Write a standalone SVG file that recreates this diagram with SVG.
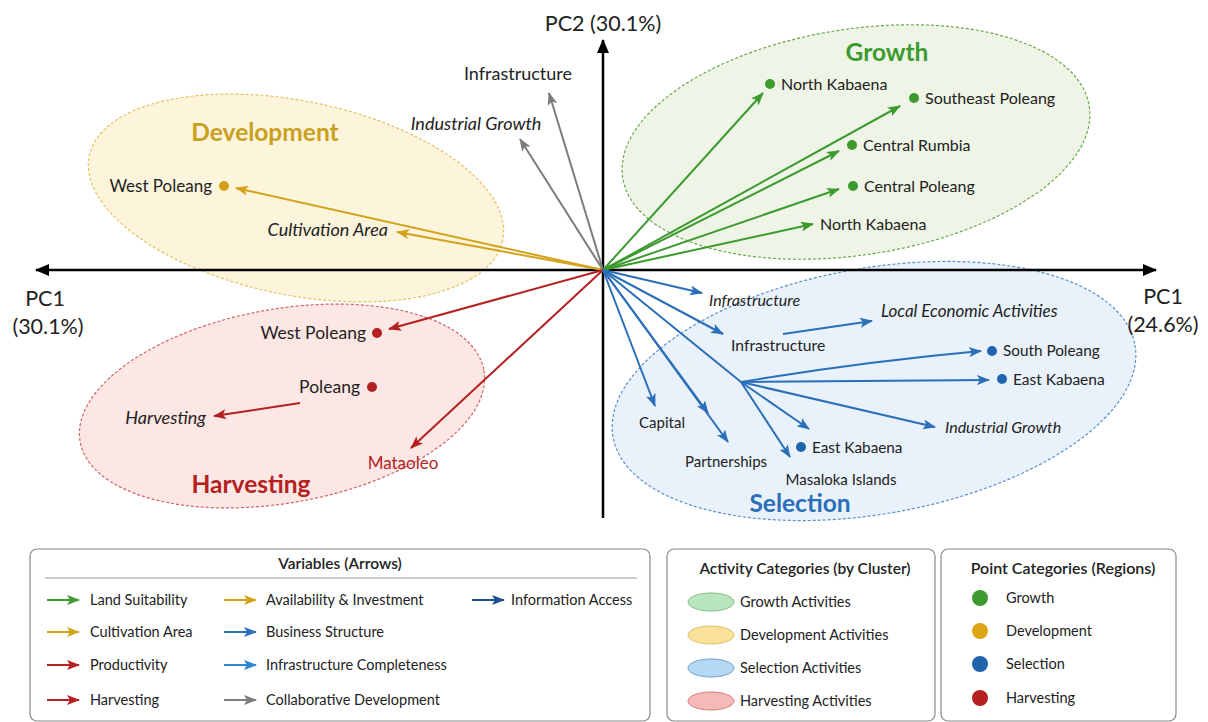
<svg xmlns="http://www.w3.org/2000/svg" width="1208" height="722" viewBox="0 0 1208 722">
<style>
text{font-family:Lato,"Open Sans","Liberation Sans",sans-serif;fill:#222}
.lbl{font-size:16px}
.it{font-size:16px;font-style:italic}
.ax{font-size:21.5px}
.ttl{font-size:24.5px;font-weight:bold}
.lg{font-size:14.5px}
.lgt{font-size:15.5px;font-weight:600}
.g{stroke:#3c9a2f;stroke-width:2;fill:none}
.y{stroke:#d4a21a;stroke-width:2;fill:none}
.r{stroke:#b52020;stroke-width:2;fill:none}
.b{stroke:#2a6fb8;stroke-width:2;fill:none}
.k{stroke:#7d7d7d;stroke-width:2;fill:none}
.box{fill:#fff;stroke:#888;stroke-width:1.2}
</style>
<defs>
<marker id="mg" markerUnits="userSpaceOnUse" markerWidth="13" markerHeight="10" refX="12" refY="5" orient="auto"><path d="M0,0 L13,5 L0,10 L3,5 z" fill="#3c9a2f"/></marker>
<marker id="my" markerUnits="userSpaceOnUse" markerWidth="13" markerHeight="10" refX="12" refY="5" orient="auto"><path d="M0,0 L13,5 L0,10 L3,5 z" fill="#d4a21a"/></marker>
<marker id="mr" markerUnits="userSpaceOnUse" markerWidth="13" markerHeight="10" refX="12" refY="5" orient="auto"><path d="M0,0 L13,5 L0,10 L3,5 z" fill="#b52020"/></marker>
<marker id="mb" markerUnits="userSpaceOnUse" markerWidth="13" markerHeight="10" refX="12" refY="5" orient="auto"><path d="M0,0 L13,5 L0,10 L3,5 z" fill="#2a6fb8"/></marker>
<marker id="mk" markerUnits="userSpaceOnUse" markerWidth="13" markerHeight="10" refX="12" refY="5" orient="auto"><path d="M0,0 L13,5 L0,10 L3,5 z" fill="#7d7d7d"/></marker>
<marker id="mlb" markerUnits="userSpaceOnUse" markerWidth="13" markerHeight="10" refX="12" refY="5" orient="auto"><path d="M0,0 L13,5 L0,10 L3,5 z" fill="#2f86d0"/></marker>
<marker id="mdb" markerUnits="userSpaceOnUse" markerWidth="13" markerHeight="10" refX="12" refY="5" orient="auto"><path d="M0,0 L13,5 L0,10 L3,5 z" fill="#1d4f91"/></marker>
<marker id="max" markerUnits="userSpaceOnUse" markerWidth="14" markerHeight="12" refX="13" refY="6" orient="auto-start-reverse"><path d="M0,0 L14,6 L0,12 z" fill="#000"/></marker>
</defs>
<rect width="1208" height="722" fill="#fff"/>

<!-- cluster ellipses -->
<g id="cluster-development"><ellipse cx="296" cy="198" rx="211" ry="97" transform="rotate(11.5 296 198)" fill="#fdf3d8" fill-opacity="0.9" stroke="#e2c263" stroke-width="1.2" stroke-dasharray="3 2"/><text x="265" y="141" class="ttl" text-anchor="middle" style="fill:#c9a020">Development</text></g>
<g id="cluster-growth"><ellipse cx="856" cy="142" rx="236" ry="113" transform="rotate(-8.7 856 142)" fill="#eef5e6" stroke="#6aa84f" stroke-width="1.2" stroke-dasharray="3 2"/><text x="887" y="61" class="ttl" text-anchor="middle" style="fill:#3c9a2f">Growth</text></g>
<g id="cluster-harvesting"><ellipse cx="282" cy="406" rx="205" ry="97" transform="rotate(-10 282 406)" fill="#fde7e4" stroke="#d06464" stroke-width="1.2" stroke-dasharray="3 2"/><text x="251" y="493" class="ttl" text-anchor="middle" style="fill:#b52020">Harvesting</text></g>
<g id="cluster-selection"><ellipse cx="874" cy="391" rx="265" ry="123" transform="rotate(-10 874 391)" fill="#e7f0fa" fill-opacity="0.9" stroke="#5b8fc9" stroke-width="1.2" stroke-dasharray="3 2"/><text x="800" y="512" class="ttl" text-anchor="middle" style="fill:#2a6fb8">Selection</text></g>

<!-- axes -->
<g id="axes">
<line x1="36" y1="270" x2="1156" y2="270" stroke="#000" stroke-width="2.5" marker-start="url(#max)" marker-end="url(#max)"/>
<line x1="603" y1="518" x2="603" y2="40" stroke="#000" stroke-width="2.5" marker-end="url(#max)"/>
<text x="603" y="31" class="ax" text-anchor="middle">PC2 (30.1%)</text>
<text x="45" y="306" class="ax" text-anchor="middle">PC1</text>
<text x="48" y="334" class="ax" text-anchor="middle">(30.1%)</text>
<text x="1163" y="304" class="ax" text-anchor="middle">PC1</text>
<text x="1163" y="332" class="ax" text-anchor="middle">(24.6%)</text>
</g>

<!-- connectors -->
<g id="connectors">
<line x1="603" y1="270" x2="236" y2="188" class="y" marker-end="url(#my)"/>
<line x1="603" y1="270" x2="397" y2="232" class="y" marker-end="url(#my)"/>
<line x1="603" y1="270" x2="549" y2="93" class="k" marker-end="url(#mk)"/>
<line x1="603" y1="270" x2="520" y2="139" class="k" marker-end="url(#mk)"/>
<line x1="603" y1="270" x2="763" y2="93" class="g" marker-end="url(#mg)"/>
<line x1="603" y1="270" x2="900" y2="106" class="g" marker-end="url(#mg)"/>
<line x1="603" y1="270" x2="839" y2="151" class="g" marker-end="url(#mg)"/>
<line x1="603" y1="270" x2="839" y2="189" class="g" marker-end="url(#mg)"/>
<line x1="603" y1="270" x2="813" y2="224" class="g" marker-end="url(#mg)"/>
<line x1="603" y1="270" x2="389" y2="329" class="r" marker-end="url(#mr)"/>
<line x1="603" y1="270" x2="411" y2="448" class="r" marker-end="url(#mr)"/>
<line x1="300" y1="403" x2="214" y2="416" class="r" marker-end="url(#mr)"/>
<line x1="603" y1="270" x2="702" y2="293" class="b" marker-end="url(#mb)"/>
<line x1="603" y1="270" x2="723" y2="334" class="b" marker-end="url(#mb)"/>
<line x1="783" y1="334" x2="872" y2="321" class="b" marker-end="url(#mb)"/>
<line x1="603" y1="270" x2="655" y2="406" class="b" marker-end="url(#mb)"/>
<line x1="603" y1="270" x2="708" y2="413" class="b" marker-end="url(#mb)"/>
<line x1="603" y1="270" x2="728" y2="442" class="b" marker-end="url(#mb)"/>
<line x1="603" y1="270" x2="741" y2="382" class="b"/>
<path d="M741,382 Q860,362 981,351" class="b" marker-end="url(#mb)"/>
<line x1="741" y1="382" x2="989" y2="380" class="b" marker-end="url(#mb)"/>
<line x1="741" y1="382" x2="935" y2="427" class="b" marker-end="url(#mb)"/>
<line x1="741" y1="382" x2="809" y2="429" class="b" marker-end="url(#mb)"/>
<line x1="741" y1="382" x2="790" y2="457" class="b" marker-end="url(#mb)"/>
</g>

<!-- nodes -->
<g id="node-dev-west-poleang"><circle cx="224" cy="186" r="5" fill="#d4a21a"/><text x="212" y="192" class="lbl" text-anchor="end" style="font-size:17px">West Poleang</text></g>
<g id="node-cultivation-area"><text x="388" y="236" class="it" text-anchor="end" style="font-size:18px">Cultivation Area</text></g>
<g id="node-infrastructure-top"><text x="518" y="80" class="lbl" text-anchor="middle" style="font-size:18px">Infrastructure</text></g>
<g id="node-industrial-growth-top"><text x="476" y="130" class="it" text-anchor="middle" style="font-size:18px">Industrial Growth</text></g>
<g id="node-north-kabaena-1"><circle cx="770" cy="84" r="5" fill="#3c9a2f"/><text x="781" y="90" class="lbl">North Kabaena</text></g>
<g id="node-southeast-poleang"><circle cx="914" cy="98" r="5" fill="#3c9a2f"/><text x="925" y="104" class="lbl">Southeast Poleang</text></g>
<g id="node-central-rumbia"><circle cx="852" cy="145" r="5" fill="#3c9a2f"/><text x="863" y="151" class="lbl">Central Rumbia</text></g>
<g id="node-central-poleang"><circle cx="853" cy="186" r="5" fill="#3c9a2f"/><text x="864" y="192" class="lbl">Central Poleang</text></g>
<g id="node-north-kabaena-2"><text x="820" y="230" class="lbl">North Kabaena</text></g>
<g id="node-harv-west-poleang"><circle cx="377" cy="333" r="5" fill="#b52020"/><text x="366" y="339" class="lbl" text-anchor="end" style="font-size:17.5px">West Poleang</text></g>
<g id="node-poleang"><circle cx="372" cy="387" r="5" fill="#b52020"/><text x="360" y="393" class="lbl" text-anchor="end" style="font-size:17.5px">Poleang</text></g>
<g id="node-harvesting-var"><text x="206" y="424" class="it" text-anchor="end" style="font-size:18px">Harvesting</text></g>
<g id="node-mataoleo"><text x="403" y="469" class="lbl" text-anchor="middle" style="font-size:17px;fill:#b52020">Mataoleo</text></g>
<g id="node-infrastructure-1"><text x="709" y="306" class="it">Infrastructure</text></g>
<g id="node-infrastructure-2"><text x="731" y="351" class="lbl" style="font-size:15.7px">Infrastructure</text></g>
<g id="node-local-economic"><text x="881" y="317" class="it" style="font-size:17px">Local Economic Activities</text></g>
<g id="node-south-poleang"><circle cx="992" cy="351" r="5" fill="#1f64ad"/><text x="1003" y="356" class="lbl" style="font-size:15.3px">South Poleang</text></g>
<g id="node-east-kabaena-1"><circle cx="1002" cy="379" r="5" fill="#1f64ad"/><text x="1013" y="385" class="lbl" style="font-size:15.5px">East Kabaena</text></g>
<g id="node-industrial-growth-sel"><text x="945" y="433" class="it">Industrial Growth</text></g>
<g id="node-east-kabaena-2"><circle cx="801" cy="447" r="5" fill="#1f64ad"/><text x="812" y="453" class="lbl" style="font-size:15.3px">East Kabaena</text></g>
<g id="node-masaloka"><text x="841" y="485" class="lbl" text-anchor="middle" style="font-size:15px">Masaloka Islands</text></g>
<g id="node-capital"><text x="662" y="428" class="lbl" text-anchor="middle" style="font-size:15px">Capital</text></g>
<g id="node-partnerships"><text x="726" y="467" class="lbl" text-anchor="middle" style="font-size:15px">Partnerships</text></g>

<!-- legend: variables -->
<g id="legend-variables">
<rect x="30" y="549" width="620" height="172" rx="7" class="box"/>
<text x="340" y="569" class="lgt" text-anchor="middle">Variables (Arrows)</text>
<line x1="45" y1="578" x2="637" y2="578" stroke="#999" stroke-width="1.2"/>
<line x1="47" y1="600" x2="79" y2="600" class="g" marker-end="url(#mg)"/><text x="90" y="605" class="lg">Land Suitability</text>
<line x1="47" y1="632" x2="79" y2="632" class="y" marker-end="url(#my)"/><text x="90" y="637" class="lg">Cultivation Area</text>
<line x1="47" y1="665" x2="79" y2="665" class="r" marker-end="url(#mr)"/><text x="90" y="670" class="lg">Productivity</text>
<line x1="47" y1="700" x2="79" y2="700" class="r" marker-end="url(#mr)"/><text x="90" y="705" class="lg">Harvesting</text>
<line x1="224" y1="600" x2="256" y2="600" class="y" marker-end="url(#my)"/><text x="266" y="605" class="lg">Availability &amp; Investment</text>
<line x1="224" y1="632" x2="256" y2="632" class="b" marker-end="url(#mb)"/><text x="266" y="637" class="lg">Business Structure</text>
<line x1="224" y1="665" x2="256" y2="665" stroke="#2f86d0" stroke-width="2" marker-end="url(#mlb)"/><text x="266" y="670" class="lg">Infrastructure Completeness</text>
<line x1="224" y1="700" x2="256" y2="700" class="k" marker-end="url(#mk)"/><text x="266" y="705" class="lg">Collaborative Development</text>
<line x1="472" y1="600" x2="504" y2="600" stroke="#1d4f91" stroke-width="2" marker-end="url(#mdb)"/><text x="511" y="605" class="lg">Information Access</text>
</g>

<!-- legend: activity categories -->
<g id="legend-activity">
<rect x="667" y="549" width="268" height="172" rx="7" class="box"/>
<text x="805" y="574" class="lgt" text-anchor="middle">Activity Categories (by Cluster)</text>
<ellipse cx="711" cy="602" rx="23" ry="9" fill="#b9e6bd" stroke="#7cbf82"/><text x="740" y="607" class="lg">Growth Activities</text>
<ellipse cx="711" cy="635" rx="23" ry="9" fill="#fbe29a" stroke="#e0c060"/><text x="740" y="640" class="lg">Development Activities</text>
<ellipse cx="711" cy="668" rx="23" ry="9" fill="#b7d8f4" stroke="#6a9fd0"/><text x="740" y="673" class="lg">Selection Activities</text>
<ellipse cx="711" cy="701" rx="23" ry="9" fill="#f7b8b8" stroke="#d77c7c"/><text x="740" y="706" class="lg">Harvesting Activities</text>
</g>

<!-- legend: point categories -->
<g id="legend-points">
<rect x="941" y="549" width="235" height="172" rx="7" class="box"/>
<text x="1063" y="574" class="lgt" text-anchor="middle" style="font-size:16px">Point Categories (Regions)</text>
<circle cx="980" cy="598" r="8" fill="#3c9a2f"/><text x="1006" y="603" class="lg">Growth</text>
<circle cx="980" cy="631" r="8" fill="#dba515"/><text x="1006" y="636" class="lg">Development</text>
<circle cx="980" cy="664" r="8" fill="#1f64ad"/><text x="1006" y="669" class="lg">Selection</text>
<circle cx="980" cy="698" r="8" fill="#b52020"/><text x="1006" y="703" class="lg">Harvesting</text>
</g>
</svg>
